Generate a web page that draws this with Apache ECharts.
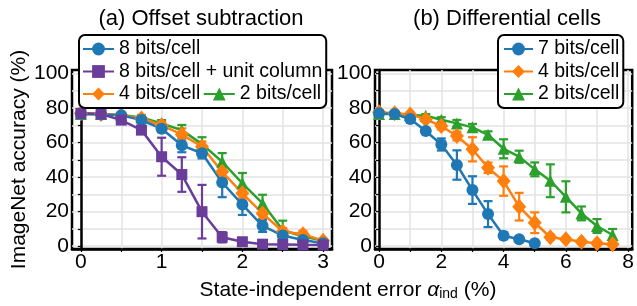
<!DOCTYPE html>
<html>
<head>
<meta charset="utf-8">
<script src="https://cdn.jsdelivr.net/npm/echarts@6/dist/echarts.min.js"></script>
<style>html,body{margin:0;padding:0;background:#fff;}#c{width:637px;height:306px;}</style>
</head>
<body>
<div id="c"></div>
<script>
// ---------- data ----------
const xLeft = [0, 0.25, 0.5, 0.75, 1, 1.25, 1.5, 1.75, 2, 2.25, 2.5, 2.75, 3];
const blue8 = [76.5, 76.3, 75.8, 73, 68, 58.4, 53.8, 36.9, 24.1, 11.8, 6.2, 3.6, 1.7];
const blue8Err = [1, 1, 1, 1.5, 2, 4, 3, 8.5, 6, 3.5, 2, 1, 0.5];
const purple8u = [76.9, 76.5, 73, 67.2, 51.8, 41.5, 20, 5.2, 2.6, 1.2, 1.0, 0.8, 0.7];
const purple8uErr = [1, 1, 1.5, 2, 11, 10, 15.5, 3, 1.5, 0.5, 0.3, 0.3, 0.3];
const orange4L = [77, 76.5, 75.8, 74, 70, 64.7, 57.6, 43.1, 30.6, 19, 8.5, 7, 3.2];
const orange4LErr = [1, 1, 1, 1.5, 2, 3.5, 3, 3.5, 3, 3, 2, 2, 1];
const green2L = [76.5, 76.5, 76, 74.5, 71, 67.2, 59.1, 48.9, 36.4, 24.8, 9.4, 5.6, 3.3];
const green2LErr = [1, 1, 1, 1.5, 2, 3, 4, 5, 6, 5, 5.4, 2, 1];

const xRightBlue = [0, 0.5, 1, 1.5, 2, 2.5, 3, 3.5, 4, 4.5, 5];
const xRight = [0, 0.5, 1, 1.5, 2, 2.5, 3, 3.5, 4, 4.5, 5, 5.5, 6, 6.5, 7, 7.5];
const blue7 = [76.9, 76.5, 73.6, 66.7, 58.9, 47, 32.5, 18.6, 6.1, 4, 1.7];
const blue7Err = [1, 1, 1, 1.5, 3.5, 8.5, 8, 7.5, 2, 1, 0.5];
const orange4R = [77.5, 76.9, 76.3, 73.4, 69.6, 63.8, 56.1, 45.4, 37.7, 22.9, 13.6, 5.2, 4, 2.6, 1.7, 1.1];
const orange4RErr = [1, 1, 1, 1.5, 2, 2.5, 7, 3, 8.5, 8, 6, 1.5, 1, 1, 0.5, 0.5];
const green2R = [76.5, 76.5, 76, 75.5, 73.2, 71.1, 68.8, 64.5, 56.4, 51.8, 44.5, 37.9, 28.6, 19, 11.7, 6.5];
const green2RErr = [0.8, 0.8, 0.8, 1, 1.5, 2, 2, 2, 5.5, 3.5, 4, 9.5, 9, 4, 4, 3.5];

const yTicks = [0, 10, 20, 30, 40, 50, 60, 70, 80, 90, 100];
const yLabels = [0, 20, 40, 60, 80, 100];
const xTicksLeft = [0, 0.5, 1, 1.5, 2, 2.5, 3];
const xLabelsLeft = [0, 1, 2, 3];
const xTicksRight = [0, 1, 2, 3, 4, 5, 6, 7, 8];
const xLabelsRight = [0, 2, 4, 6, 8];

const titleA = '(a) Offset subtraction';
const titleB = '(b) Differential cells';
const yName = 'ImageNet accuracy (%)';

// ---------- styles ----------
const C = { blue: '#1f77b4', purple: '#6a3d9a', orange: '#ff7f0e', green: '#2ca02c' };
const FONT = 'Liberation Sans, Arial, sans-serif';

function zip(xs, ys) { return xs.map((x, i) => [x, ys[i]]); }
function zip3(xs, ys, es) { return xs.map((x, i) => [x, ys[i], es[i]]); }

function lineSeries(name, xs, ys, color, symbol, size, gi) {
  return {
    type: 'line', name, xAxisIndex: gi, yAxisIndex: gi,
    data: zip(xs, ys), symbol, symbolSize: size,
    itemStyle: { color, opacity: 1 },
    lineStyle: { color, width: 2.5 },
    showAllSymbol: true, animation: false, clip: false
  };
}
function errSeries(name, xs, ys, es, color, gi) {
  return {
    type: 'custom', name: name + ' err', xAxisIndex: gi, yAxisIndex: gi,
    data: zip3(xs, ys, es), animation: false, silent: true,
    renderItem(params, api) {
      const x = api.value(0), y = api.value(1), e = api.value(2);
      const t = api.coord([x, y + e]);
      const b = api.coord([x, Math.max(y - e, -1.5)]);
      const hw = 4.5;
      const st = { stroke: color, lineWidth: 2.2 };
      return { type: 'group', children: [
        { type: 'line', shape: { x1: t[0], y1: t[1], x2: b[0], y2: b[1] }, style: st },
        { type: 'line', shape: { x1: t[0] - hw, y1: t[1], x2: t[0] + hw, y2: t[1] }, style: st },
        { type: 'line', shape: { x1: b[0] - hw, y1: b[1], x2: b[0] + hw, y2: b[1] }, style: st }
      ]};
    }
  };
}

function xAxis(gi, min, max, ticks, labels) {
  return {
    type: 'value', gridIndex: gi, min, max,
    axisLine: { show: true, onZero: false, lineStyle: { color: '#000', width: 2.5 } },
    axisTick: { show: true, customValues: ticks, length: 3, inside: false, lineStyle: { color: '#000', width: 1.2 } },
    axisLabel: { customValues: labels, color: '#000', fontSize: 21, fontFamily: FONT, margin: 3 },
    splitLine: { show: true, lineStyle: { color: '#e3e3e3', width: 1.5 } }
  };
}
function yAxis(gi, withName) {
  const a = {
    type: 'value', gridIndex: gi, min: -1.6, max: 102,
    axisLine: { show: true, lineStyle: { color: '#000', width: 2.5 } },
    axisTick: { show: true, customValues: yTicks, length: 3, inside: false, lineStyle: { color: '#000', width: 1.2 } },
    axisLabel: { customValues: yLabels, color: '#000', fontSize: 21, fontFamily: FONT, margin: 3 },
    splitLine: { show: true, lineStyle: { color: '#e3e3e3', width: 1.5 } }
  };
  if (withName) {
    a.name = yName; a.nameLocation = 'middle'; a.nameGap = 41;
    a.nameTextStyle = { color: '#000', fontSize: 21, fontFamily: FONT };
  }
  return a;
}

const legendText = { color: '#000', fontSize: 19.5, fontFamily: FONT, lineHeight: 14 };

const option = {
  backgroundColor: '#fff',
  animation: false,
  grid: [
    { left: 72, top: 70, width: 260, height: 179, show: true, borderColor: '#000', borderWidth: 2.5, backgroundColor: 'transparent' },
    { left: 375, top: 70, width: 261, height: 179, show: true, borderColor: '#000', borderWidth: 2.5, backgroundColor: 'transparent' }
  ],
  xAxis: [
    xAxis(0, -0.11, 3.11, xTicksLeft, xLabelsLeft),
    xAxis(1, -0.13, 8.13, xTicksRight, xLabelsRight)
  ],
  yAxis: [yAxis(0, true), yAxis(1, false)],
  legend: [
    {
      data: ['8 bits/cell', '8 bits/cell + unit column', '4 bits/cell L', '2 bits/cell L'],
      formatter: n => n.replace(/ [LR]$/, ''),
      orient: 'horizontal', left: 79, top: 35, width: 240,
      itemWidth: 31, itemHeight: 16, itemGap: 2.5,
      padding: [4, 4, 4, 3],
      backgroundColor: '#fff', borderColor: '#000', borderWidth: 2, borderRadius: 6,
      textStyle: legendText, selectedMode: false
    },
    {
      data: ['7 bits/cell', '4 bits/cell R', '2 bits/cell R'],
      formatter: n => n.replace(/ [LR]$/, ''),
      orient: 'vertical', left: 498, top: 35,
      itemWidth: 29, itemHeight: 16, itemGap: 2.5,
      padding: [4, 4, 4, 5],
      backgroundColor: '#fff', borderColor: '#000', borderWidth: 2, borderRadius: 6,
      textStyle: legendText, selectedMode: false
    }
  ],
  graphic: [
    { type: 'text', x: 201, y: 19, style: { text: titleA, fill: '#000', font: '22px ' + FONT, textAlign: 'center', textVerticalAlign: 'middle' } },
    { type: 'text', x: 507, y: 19, style: { text: titleB, fill: '#000', font: '22px ' + FONT, textAlign: 'center', textVerticalAlign: 'middle' } },
    { type: 'text', x: 348, y: 290, style: {
        text: '{a|State-independent error }{b|α}{c|ind}{a| (%)}',
        textAlign: 'center', textVerticalAlign: 'middle',
        rich: {
          a: { fontSize: 21, fontFamily: FONT, fill: '#000', lineHeight: 24 },
          b: { fontSize: 21, fontFamily: FONT, fontStyle: 'italic', fill: '#000', lineHeight: 24 },
          c: { fontSize: 14, fontFamily: FONT, fill: '#000', padding: [9, 0, 0, 0] }
        }
    } }
  ],
  series: [
    errSeries('g', xLeft, green2L, green2LErr, C.green, 0),
    lineSeries('2 bits/cell L', xLeft, green2L, C.green, 'triangle', 12, 0),
    errSeries('o', xLeft, orange4L, orange4LErr, C.orange, 0),
    lineSeries('4 bits/cell L', xLeft, orange4L, C.orange, 'diamond', [14, 16], 0),
    errSeries('b', xLeft, blue8, blue8Err, C.blue, 0),
    lineSeries('8 bits/cell', xLeft, blue8, C.blue, 'circle', 12, 0),
    errSeries('p', xLeft, purple8u, purple8uErr, C.purple, 0),
    lineSeries('8 bits/cell + unit column', xLeft, purple8u, C.purple, 'rect', 11, 0),

    errSeries('g2', xRight, green2R, green2RErr, C.green, 1),
    lineSeries('2 bits/cell R', xRight, green2R, C.green, 'triangle', 12, 1),
    errSeries('o2', xRight, orange4R, orange4RErr, C.orange, 1),
    lineSeries('4 bits/cell R', xRight, orange4R, C.orange, 'diamond', [14, 16], 1),
    errSeries('b2', xRightBlue, blue7, blue7Err, C.blue, 1),
    lineSeries('7 bits/cell', xRightBlue, blue7, C.blue, 'circle', 12, 1)
  ]
};

const chart = echarts.init(document.getElementById('c'), null, { renderer: 'canvas' });
chart.setOption(option);
</script>
</body>
</html>
